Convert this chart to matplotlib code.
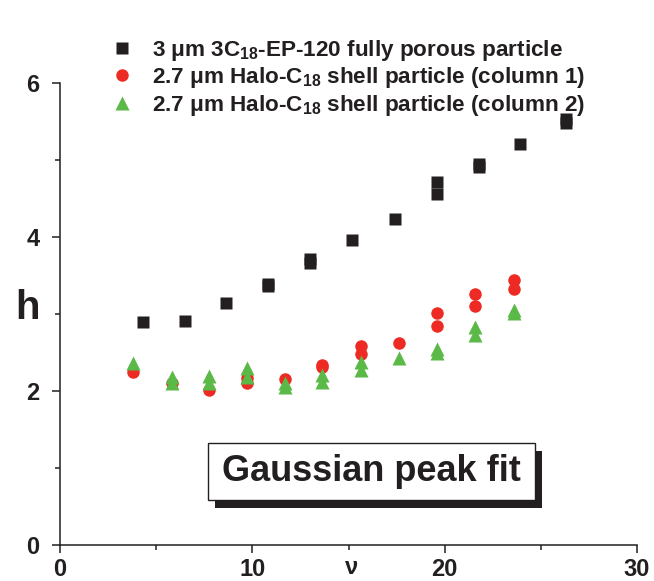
import numpy as np
import matplotlib.pyplot as plt
import matplotlib.patches as mpatches

plt.rcParams['backend'] = 'Agg'

fam = 'Liberation Sans'
plt.rcParams['font.family'] = [fam, 'DejaVu Sans']
plt.rcParams['font.weight'] = 'bold'
plt.rcParams['mathtext.fontset'] = 'custom'
plt.rcParams['mathtext.rm'] = fam + ':bold'
plt.rcParams['mathtext.it'] = fam + ':bold'
plt.rcParams['mathtext.bf'] = fam + ':bold'

# fully porous particle (black squares)
nu_fp = [4.3, 6.5, 8.6, 10.8, 10.8, 13.0, 13.0, 15.2, 17.4, 19.6, 19.6, 21.8, 21.8, 23.9, 26.3, 26.3]
h_fp = [2.90, 2.91, 3.14, 3.39, 3.36, 3.71, 3.66, 3.96, 4.23, 4.71, 4.56, 4.95, 4.91, 5.21, 5.53, 5.48]

# shell particle column 1 (red circles)
nu_c1 = [3.8, 5.8, 7.75, 9.7, 9.7, 11.7, 13.6, 13.6, 15.65, 15.65, 17.6, 19.6, 19.6, 21.6, 21.6, 23.6, 23.6]
h_c1 = [2.25, 2.10, 2.01, 2.17, 2.10, 2.15, 2.34, 2.31, 2.59, 2.48, 2.62, 3.01, 2.84, 3.26, 3.10, 3.44, 3.32]

# shell particle column 2 (green triangles)
nu_c2 = [3.8, 5.8, 5.8, 7.75, 7.75, 9.7, 9.7, 11.7, 11.7, 13.6, 13.6, 15.65, 15.65, 17.6, 19.6, 19.6, 21.6, 21.6, 23.6, 23.6]
h_c2 = [2.36, 2.18, 2.10, 2.19, 2.10, 2.30, 2.18, 2.10, 2.05, 2.21, 2.12, 2.38, 2.27, 2.43, 2.55, 2.49, 2.83, 2.73, 3.05, 3.01]

labels = ['3 \u03bcm 3C$_{18}$-EP-120 fully porous particle',
          '2.7 \u03bcm Halo-C$_{18}$ shell particle (column 1)',
          '2.7 \u03bcm Halo-C$_{18}$ shell particle (column 2)']

fig = plt.figure(figsize=(6.54, 5.81), dpi=100)
ax = fig.add_axes([0.092, 0.062, 0.882, 0.795])

h1, = ax.plot(nu_fp, h_fp, 's', ms=8.5, color='#231f20', mec='none', label=labels[0])
h2, = ax.plot(nu_c1, h_c1, 'o', ms=9, color='#ee2a24', mec='none', label=labels[1])
h3, = ax.plot(nu_c2, h_c2, '^', ms=9.5, color='#5bb947', mec='none', label=labels[2])

ax.set_xlim(0, 30)
ax.set_ylim(0, 6)
ax.spines['top'].set_visible(False)
ax.spines['right'].set_visible(False)
for s in ['left', 'bottom']:
    ax.spines[s].set_linewidth(1.1)
    ax.spines[s].set_color('#231f20')
ax.set_xticks([0, 10, 20, 30])
ax.set_xticks([5, 15, 25], minor=True)
ax.set_yticks([0, 2, 4, 6])
ax.set_yticks([1, 3, 5], minor=True)
ax.tick_params(which='major', direction='out', length=6, width=1.1, labelsize=17, color='#231f20', labelcolor='#231f20')
ax.tick_params(which='minor', direction='out', length=3.5, width=1.1, color='#231f20')
ax.tick_params(axis='x', pad=3.5)
ax.tick_params(axis='y', pad=9)

fig.text(0.023, 0.47, 'h', fontsize=29, fontweight='bold', color='#231f20', ha='left', va='center')
fig.text(0.538, 0.003, '\u03bd', fontsize=17, fontweight='bold', color='#231f20', ha='center', va='bottom')

# boxed annotation with drop shadow
bx0, by0, bw, bh = 0.318, 0.14, 0.500, 0.098
shadow = mpatches.Rectangle((bx0 + 0.011, by0 - 0.015), bw, bh, transform=fig.transFigure,
                            facecolor='#231f20', edgecolor='none', zorder=3)
box = mpatches.Rectangle((bx0, by0), bw, bh, transform=fig.transFigure,
                         facecolor='white', edgecolor='#231f20', lw=1.0, zorder=4)
fig.patches.extend([shadow, box])
fig.text(bx0 + bw / 2, by0 + bh / 2, 'Gaussian peak fit', fontsize=26, fontweight='bold',
         color='#231f20', ha='center', va='center', zorder=5)

fig.legend(handles=[h1, h2, h3], loc='upper left', bbox_to_anchor=(0.155, 0.95), frameon=False,
           fontsize=16.2, handlelength=1.0, handletextpad=0.85, labelspacing=0.1,
           borderaxespad=0, labelcolor='#231f20')

fig.savefig('out.png', dpi=100)
plt.close(fig)
